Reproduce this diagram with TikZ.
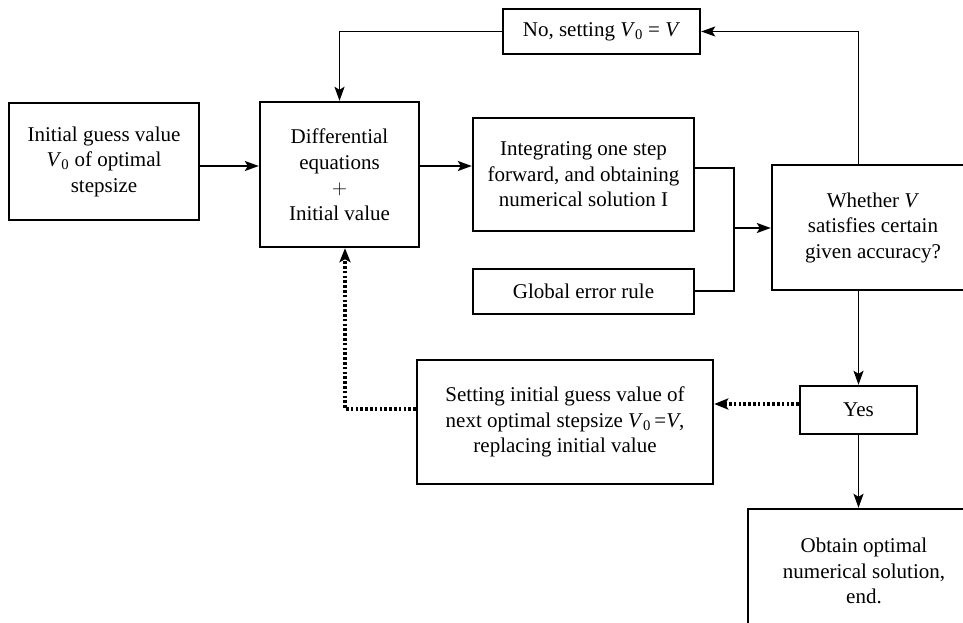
\documentclass[tikz,border=0pt]{standalone}
\usepackage{fontspec}
\setmainfont{Liberation Serif}
\newfontfamily\timesfam{Liberation Serif}
\usetikzlibrary{arrows.meta}
\begin{document}
\begin{tikzpicture}[x=1pt,y=1pt,
  box/.style={draw,line width=2.4pt,inner sep=0pt,align=center,
    font=\timesfam\fontsize{21}{25.5}\selectfont},
  conn/.style={line width=1.8pt,-{Stealth[length=14pt,width=10pt,inset=3pt]}},
  plain/.style={line width=1.8pt},
  dots/.style={line width=3.4pt,dash pattern=on 2.6pt off 2.2pt,
    -{Stealth[length=14pt,width=11pt,inset=3pt]}}]
\useasboundingbox (0,0) rectangle (963,-623);
\clip (0,0) rectangle (963,-623);
\node[box,minimum width=190pt,minimum height=117pt] (A) at (104,-161.5)
  {Initial guess value\\ \textit{V}\textsubscript{0} of optimal\\ stepsize};
\node[box,minimum width=159pt,minimum height=145pt] (B) at (339.5,-174.5)
  {Differential\\ equations\\ $+$\\ Initial value};
\node[box,minimum width=221pt,minimum height=113pt] (C) at (583.5,-174.5)
  {Integrating one step\\ forward, and obtaining\\ numerical solution I};
\node[box,minimum width=221pt,minimum height=45pt] (D) at (583.5,-291.5)
  {Global error rule};
\node[box,minimum width=197pt,minimum height=45pt] (N) at (601.5,-31.5)
  {No, setting \textit{V}\textsubscript{0} = \textit{V}};
\node[box,minimum width=202pt,minimum height=125pt] (E) at (873,-227.5)
  {Whether \textit{V}\\ satisfies certain\\ given accuracy?};
\node[box,minimum width=296pt,minimum height=124pt] (F) at (565,-422)
  {Setting initial guess value of\\ next optimal stepsize \textit{V}\textsubscript{0}\,=\textit{V},\\ replacing initial value};
\node[box,minimum width=117pt,minimum height=48pt] (Y) at (858.5,-410)
  {Yes};
\node[box,minimum width=232pt,minimum height=124pt] (G) at (864,-571)
  {Obtain optimal\\ numerical solution,\\ end.};
\coordinate (j) at (734,-228);
\draw[conn] (A.east |- 0,-166) -- (B.west |- 0,-166);
\draw[conn] (B.east |- 0,-166) -- (C.west |- 0,-166);
\draw[plain] (C.east |- 0,-168) -| (j);
\draw[plain] (D.east |- 0,-291) -| (j);
\draw[conn] (j) -- (E.west |- j);
\draw[conn] (E.north -| Y.north) |- (N.east);
\draw[conn] (N.west) -| (B.north);
\draw[conn] (E.south -| Y.north) -- (Y.north);
\draw[conn] (Y.south) -- (Y.south |- G.north);
\draw[dots] (Y.west |- 0,-404) -- (F.east |- 0,-404);
\draw[dots] (F.west |- 0,-409) -| (B.south -| 345,0);
\end{tikzpicture}
\end{document}
